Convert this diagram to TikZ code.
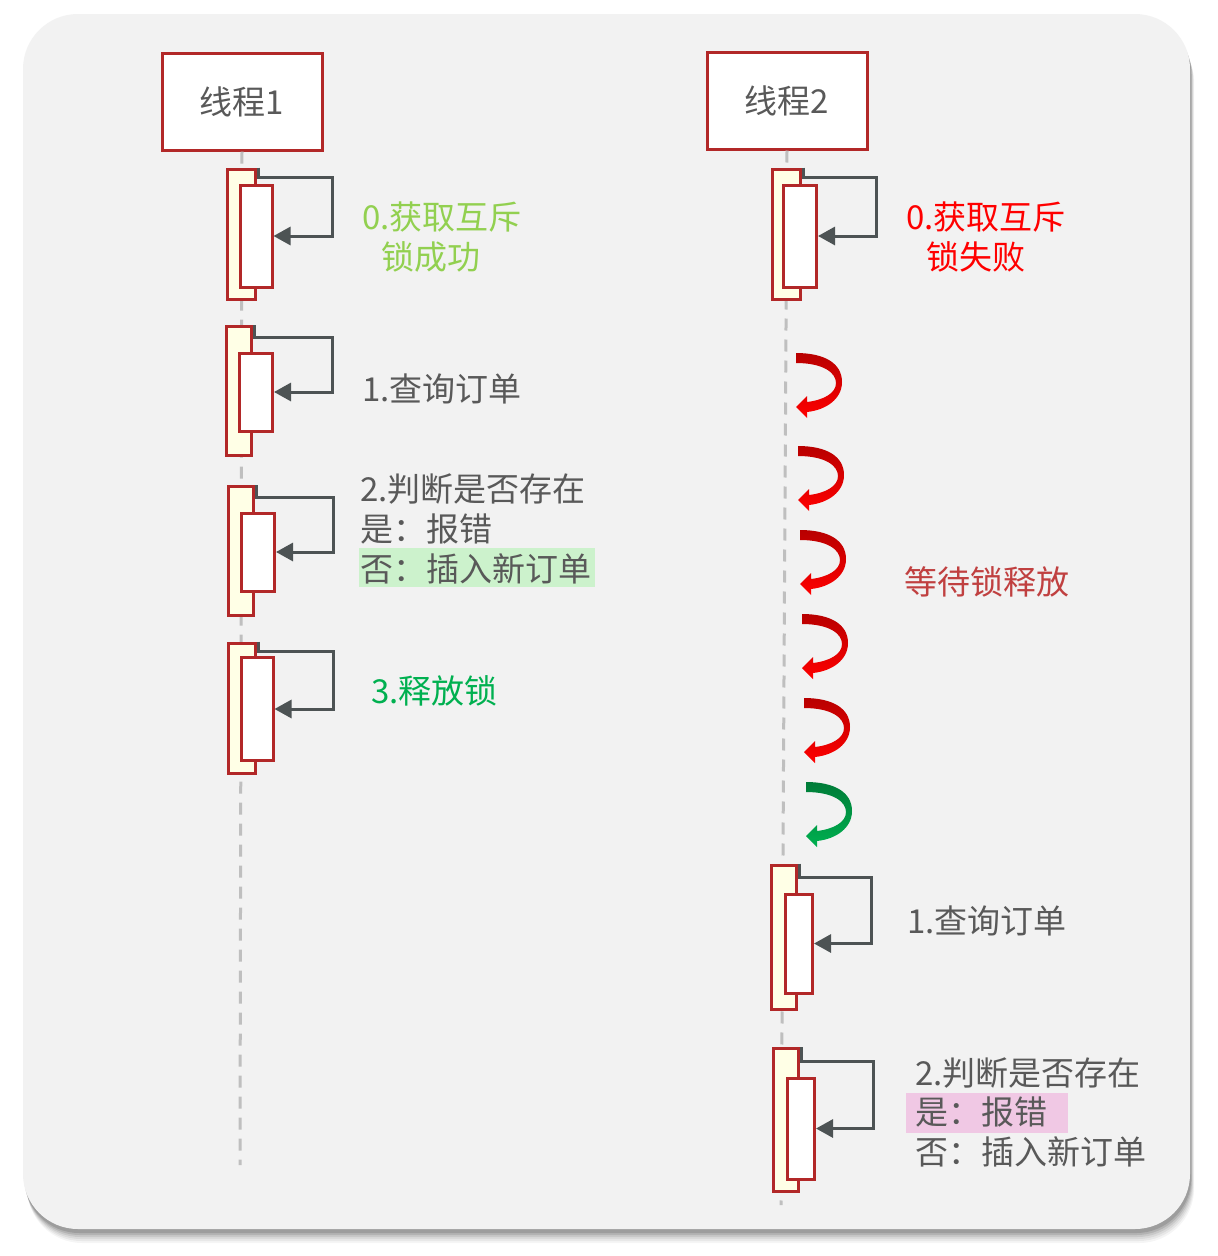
\documentclass[tikz,border=0pt]{standalone}
\usepackage{fontspec}
\setmainfont{Noto Sans CJK SC}
\usetikzlibrary{arrows.meta}
\definecolor{bg}{RGB}{242,242,242}
\definecolor{boxred}{RGB}{178,40,40}
\definecolor{txtgray}{RGB}{89,89,89}
\definecolor{loopgray}{RGB}{77,83,84}
\definecolor{cream}{RGB}{255,255,230}
\definecolor{okgreen}{RGB}{146,208,80}
\definecolor{relgreen}{RGB}{0,176,80}
\definecolor{waitred}{RGB}{192,64,64}
\definecolor{hlgreen}{RGB}{204,242,204}
\definecolor{hlpink}{RGB}{240,200,228}
\definecolor{life}{RGB}{191,191,191}
\tikzset{
  hdr/.style={draw=boxred, line width=3pt, fill=white, minimum width=160pt, minimum height=97pt, inner sep=0pt, text=txtgray, font=\fontsize{33}{40}\selectfont},
  outerbox/.style={draw=boxred, line width=3pt, fill=cream, inner sep=0pt},
  innerbox/.style={draw=boxred, line width=3pt, fill=white, inner sep=0pt},
  loopar/.style={draw=loopgray, line width=3pt, -{Triangle[length=17pt,width=18pt]}},
  lifeline/.style={draw=life, line width=3pt, dash pattern=on 12pt off 9pt},
  lbl/.style={anchor=west, inner sep=0pt, font=\fontsize{33}{40}\selectfont, text=txtgray},
}
\newcommand\curvarr[4]{%
  \begin{scope}[shift={(#1,#2)}]
  \shade[top color=#3, bottom color=#4] (0,0) .. controls (28,0) and (46,10) .. (46,29) .. controls (46,46) and (30,57) .. (11,59) -- (11,65) -- (0,54) -- (11,43) -- (11,49) .. controls (28,47) and (40,40) .. (40,30) .. controls (40,19) and (26,10) .. (0,10) -- cycle;
  \end{scope}}
\begin{document}
\begin{tikzpicture}[x=1pt, y=-1pt]
\useasboundingbox (0,0) rectangle (1218,1256);
\fill[white] (0,0) rectangle (1218,1256);
% shadow
\foreach \d/\o in {14/0.04, 12/0.05, 10/0.06, 8/0.08, 6/0.10, 4/0.12} {
  \fill[black, opacity=\o, rounded corners=55pt] (23+\d*0.3,14+\d) rectangle (1190+\d*0.3,1229+\d);
}
\fill[bg, rounded corners=55pt] (23,14) rectangle (1190,1229);

% headers
\node[hdr] (h1) at (242,101.5) {线程1};
\node[hdr] (h2) at (787,100.5) {线程2};
\coordinate (e1) at (240,1165);
\coordinate (e2) at (781,1205);
\draw[lifeline] (h1.south) -- (e1);
\draw[lifeline] (h2.south) -- (e2);

% left activations
\node[outerbox, minimum width=28pt, minimum height=130pt] (o1) at (241,234) {};
\node[innerbox, minimum width=32pt, minimum height=102pt] (i1) at (256,236) {};
\draw[loopar] ([xshift=1.5pt]o1.north east) -- ++(0,10) -- ++(74,0) |- (i1.east);

\node[outerbox, minimum width=25pt, minimum height=129pt] (o2) at (239,391) {};
\node[innerbox, minimum width=33pt, minimum height=78pt] (i2) at (256,392) {};
\draw[loopar] ([xshift=1.5pt]o2.north east) -- ++(0,12) -- ++(78,0) |- (i2.east);

\node[outerbox, minimum width=25pt, minimum height=129pt] (o3) at (241,551) {};
\node[innerbox, minimum width=33pt, minimum height=78pt] (i3) at (258,552) {};
\draw[loopar] ([xshift=1.5pt]o3.north east) -- ++(0,12) -- ++(77,0) |- (i3.east);

\node[outerbox, minimum width=27pt, minimum height=130pt] (o4) at (242,708) {};
\node[innerbox, minimum width=32pt, minimum height=103pt] (i4) at (257,709) {};
\draw[loopar] ([xshift=1.5pt]o4.north east) -- ++(0,10) -- ++(75,0) |- (i4.east);

% right activations
\node[outerbox, minimum width=28pt, minimum height=130pt] (o5) at (786,234) {};
\node[innerbox, minimum width=33pt, minimum height=102pt] (i5) at (800,236) {};
\draw[loopar] ([xshift=1.5pt]o5.north east) -- ++(0,10) -- ++(73,0) |- (i5.east);

\node[outerbox, minimum width=25pt, minimum height=144pt] (o6) at (784,937) {};
\node[innerbox, minimum width=27pt, minimum height=99pt] (i6) at (799,943.5) {};
\draw[loopar] ([xshift=1.5pt]o6.north east) -- ++(0,14) -- ++(72,0) |- (i6.east);

\node[outerbox, minimum width=25pt, minimum height=143pt] (o7) at (786,1120) {};
\node[innerbox, minimum width=27pt, minimum height=101pt] (i7) at (801,1128.5) {};
\draw[loopar] ([xshift=1.5pt]o7.north east) -- ++(0,14) -- ++(72,0) |- (i7.east);

% waiting arrows
\curvarr{796}{353}{red!72!black}{red}
\curvarr{798}{446}{red!72!black}{red}
\curvarr{800}{530}{red!72!black}{red}
\curvarr{802}{614}{red!72!black}{red}
\curvarr{804}{698}{red!72!black}{red}
\curvarr{806}{782}{relgreen!70!black}{relgreen}

% highlights
\fill[hlgreen] (359,548) rectangle (595,587);
\fill[hlpink] (906,1093) rectangle (1068,1133);

% labels
\node[lbl, text=okgreen] (t1a) at (362,217) {0.获取互斥};
\node[lbl, text=okgreen] (t1b) at (381,257) {锁成功};
\node[lbl, text=red] (t2a) at (906,217) {0.获取互斥};
\node[lbl, text=red] (t2b) at (926,257) {锁失败};
\node[lbl] (t3) at (362,389) {1.查询订单};
\node[lbl] (t4a) at (360,489) {2.判断是否存在};
\node[lbl] (t4b) at (360,529) {是：报错};
\node[lbl] (t4c) at (360,569) {否：插入新订单};
\node[lbl, text=relgreen] (t5) at (371,691) {3.释放锁};
\node[lbl, text=waitred] (t6) at (904,582) {等待锁释放};
\node[lbl] (t7) at (907,921) {1.查询订单};
\node[lbl] (t8a) at (915,1073) {2.判断是否存在};
\node[lbl] (t8b) at (915,1112) {是：报错};
\node[lbl] (t8c) at (915,1152) {否：插入新订单};
\end{tikzpicture}
\end{document}
